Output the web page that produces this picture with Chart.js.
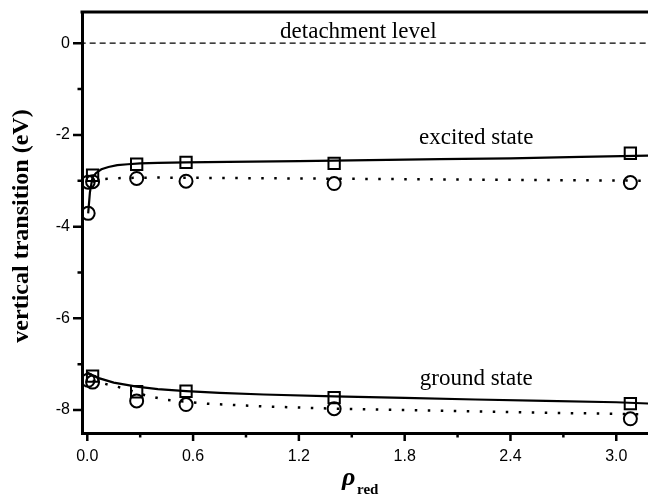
<!DOCTYPE html>
<html>
<head>
<meta charset="utf-8">
<script src="https://cdn.jsdelivr.net/npm/chart.js@4"></script>
<style>
  html, body { margin: 0; padding: 0; background: #fff; overflow: hidden; }
  canvas { display: block; }
</style>
</head>
<body>
<canvas id="chart" width="648" height="495" style="width:648px;height:495px"></canvas>
<script>
// measured points
const excSqX = [0.03, 0.28, 0.56, 1.40, 3.08];
const excSqY = [-2.88, -2.64, -2.60, -2.62, -2.40];
const excCircX = [0.005, 0.005, 0.03, 0.28, 0.56, 1.40, 3.08];
const excCircY = [-3.71, -3.03, -3.02, -2.95, -3.01, -3.06, -3.04];
const gndSqX = [0.03, 0.28, 0.56, 1.40, 3.08];
const gndSqY = [-7.26, -7.60, -7.59, -7.73, -7.86];
const gndCircX = [0.005, 0.03, 0.28, 0.56, 1.40, 3.08];
const gndCircY = [-7.35, -7.39, -7.80, -7.88, -7.97, -8.19];

// fitted curves
const excFitX = [0.005, 0.015, 0.03, 0.05, 0.08, 0.12, 0.17, 0.23, 0.3, 0.4, 0.56, 0.8, 1.2, 1.6, 2.0, 2.4, 2.8, 3.2];
const excFitY = [-3.71, -3.25, -2.92, -2.83, -2.75, -2.70, -2.66, -2.64, -2.62, -2.61, -2.60, -2.59, -2.57, -2.55, -2.53, -2.51, -2.48, -2.45];
const excDotX = [0.03, 0.1, 0.2, 0.4, 0.8, 1.2, 1.6, 2.0, 2.4, 2.8, 3.2];
const excDotY = [-3.02, -2.96, -2.94, -2.93, -2.94, -2.95, -2.96, -2.97, -2.98, -2.99, -3.00];
const gndFitX = [0.0, 0.03, 0.07, 0.15, 0.28, 0.4, 0.56, 0.75, 1.0, 1.4, 1.8, 2.2, 2.6, 3.0, 3.2];
const gndFitY = [-7.18, -7.24, -7.31, -7.40, -7.49, -7.545, -7.585, -7.625, -7.66, -7.70, -7.735, -7.77, -7.80, -7.83, -7.86];
const gndDotX = [0.03, 0.07, 0.19, 0.34, 0.45, 0.68, 1.0, 1.4, 1.8, 2.2, 2.6, 3.0, 3.2];
const gndDotY = [-7.36, -7.40, -7.51, -7.69, -7.78, -7.86, -7.92, -7.97, -8.00, -8.03, -8.06, -8.08, -8.10];
const detachX = [-0.1, 3.3];
const detachY = [0, 0];

const xMajor = [0, 0.6, 1.2, 1.8, 2.4, 3.0];
const xMinor = [0.3, 0.9, 1.5, 2.1, 2.7];
const yMajor = [0, -2, -4, -6, -8];
const yMinor = [-1, -3, -5, -7];

const labels = [
  { text: 'detachment level', x: 1.537, y: 0.11 },
  { text: 'excited state', x: 2.206, y: -2.20 },
  { text: 'ground state', x: 2.206, y: -7.455 }
];

const pts = (xs, ys) => xs.map((x, i) => ({ x: x, y: ys[i] }));

function markers(xs, ys, style, r) {
  return {
    data: pts(xs, ys),
    showLine: false,
    pointStyle: style,
    pointRadius: r,
    pointBorderWidth: 2,
    pointBorderColor: '#000',
    pointBackgroundColor: 'rgba(0,0,0,0)'
  };
}

function curve(xs, ys, dash, width) {
  return {
    data: pts(xs, ys),
    showLine: true,
    pointRadius: 0,
    borderColor: '#000',
    borderWidth: width,
    borderDash: dash,
    tension: 0
  };
}

const decor = {
  id: 'decor',
  afterDraw(chart) {
    const ctx = chart.ctx;
    const a = chart.chartArea;
    const xs = chart.scales.x, ys = chart.scales.y;
    ctx.save();
    ctx.strokeStyle = '#000';
    // top frame
    ctx.lineWidth = 3;
    ctx.beginPath();
    ctx.moveTo(a.left - 1.5, a.top);
    ctx.lineTo(a.right + 2, a.top);
    ctx.stroke();
    // ticks
    ctx.lineWidth = 2.5;
    ctx.beginPath();
    xMajor.forEach(v => { const p = xs.getPixelForValue(v); ctx.moveTo(p, a.bottom); ctx.lineTo(p, a.bottom + 8); });
    xMinor.forEach(v => { const p = xs.getPixelForValue(v); ctx.moveTo(p, a.bottom); ctx.lineTo(p, a.bottom + 4.5); });
    yMajor.forEach(v => { const p = ys.getPixelForValue(v); ctx.moveTo(a.left, p); ctx.lineTo(a.left - 9, p); });
    yMinor.forEach(v => { const p = ys.getPixelForValue(v); ctx.moveTo(a.left, p); ctx.lineTo(a.left - 4.5, p); });
    ctx.stroke();
    // annotations
    ctx.fillStyle = '#000';
    ctx.font = '23px "Liberation Serif", "Times New Roman", serif';
    ctx.textAlign = 'center';
    ctx.textBaseline = 'alphabetic';
    labels.forEach(l => ctx.fillText(l.text, xs.getPixelForValue(l.x), ys.getPixelForValue(l.y)));
    // y title
    ctx.save();
    ctx.translate(22, 226);
    ctx.rotate(-Math.PI / 2);
    ctx.font = 'bold 24px "Liberation Serif", "Times New Roman", serif';
    ctx.textBaseline = 'middle';
    ctx.fillText('vertical transition (eV)', 0, 0);
    ctx.restore();
    // x title: rho with subscript
    ctx.textAlign = 'left';
    ctx.font = 'italic bold 26px "Liberation Serif", "Times New Roman", serif';
    ctx.fillText('ρ', 342, 485);
    ctx.font = 'bold 15px "Liberation Serif", "Times New Roman", serif';
    ctx.fillText('red', 357, 494);
    ctx.restore();
  }
};

new Chart(document.getElementById('chart'), {
  type: 'scatter',
  data: {
    datasets: [
      markers(excSqX, excSqY, 'rect', 8),
      markers(excCircX, excCircY, 'circle', 6.5),
      markers(gndSqX, gndSqY, 'rect', 8),
      markers(gndCircX, gndCircY, 'circle', 6.5),
      curve(excFitX, excFitY, [], 2.2),
      curve(excDotX, excDotY, [2.5, 10.5], 2.5),
      curve(gndFitX, gndFitY, [], 2.2),
      curve(gndDotX, gndDotY, [2.5, 10.5], 2.5),
      curve(detachX, detachY, [6, 4], 1.2)
    ]
  },
  options: {
    responsive: false,
    animation: false,
    layout: { autoPadding: false, padding: { top: 12, right: 0, left: 0, bottom: 0 } },
    plugins: { legend: { display: false }, tooltip: { enabled: false } },
    scales: {
      x: {
        type: 'linear',
        min: -0.03,
        max: 3.18,
        afterFit: s => { s.height = 62; s.paddingLeft = 0; s.paddingRight = 0; },
        afterBuildTicks: s => { s.ticks = xMajor.map(v => ({ value: v })); },
        grid: { display: true, drawOnChartArea: false, drawTicks: false },
        border: { display: true, color: '#000', width: 3 },
        ticks: {
          autoSkip: false,
          maxRotation: 0,
          padding: 14,
          color: '#000',
          font: { family: '"Liberation Sans", Arial, sans-serif', size: 16 },
          callback: v => v.toFixed(1)
        }
      },
      y: {
        type: 'linear',
        min: -8.5,
        max: 0.68,
        afterFit: s => { s.width = 82; s.paddingTop = 0; s.paddingBottom = 0; },
        afterBuildTicks: s => { s.ticks = yMajor.map(v => ({ value: v })); },
        grid: { display: true, drawOnChartArea: false, drawTicks: false },
        border: { display: true, color: '#000', width: 3 },
        ticks: {
          autoSkip: false,
          padding: 12,
          color: '#000',
          font: { family: '"Liberation Sans", Arial, sans-serif', size: 16 },
          callback: v => String(v)
        }
      }
    }
  },
  plugins: [decor]
});
</script>
</body>
</html>
